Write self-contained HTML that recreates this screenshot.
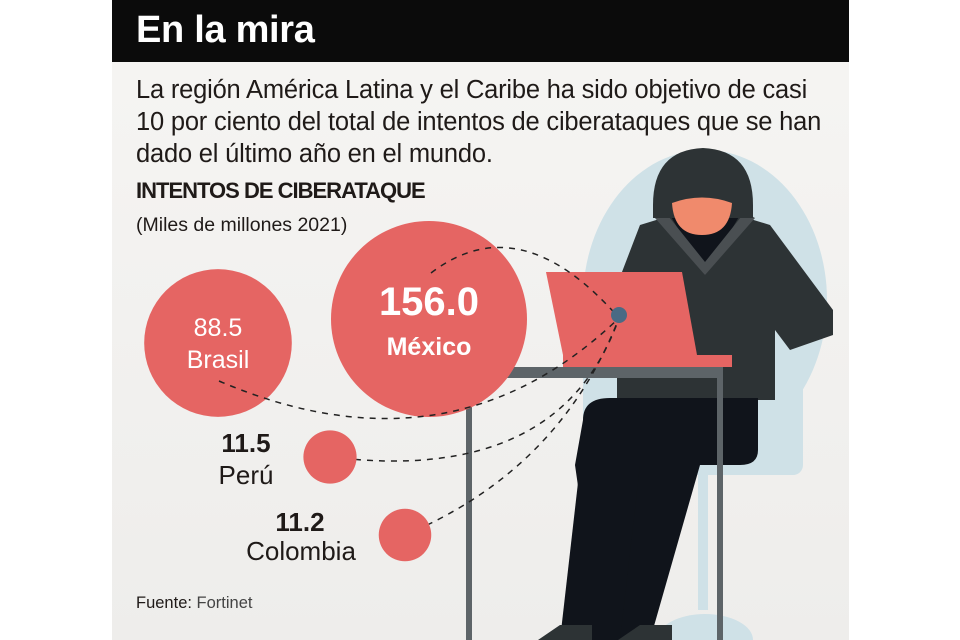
<!DOCTYPE html>
<html><head><meta charset="utf-8"><style>
html,body{margin:0;padding:0;background:#fff;}
body{width:960px;height:640px;position:relative;overflow:hidden;font-family:"Liberation Sans",sans-serif;}
#panel{position:absolute;left:112px;top:0;width:737px;height:640px;background:linear-gradient(#f6f5f3,#eeedeb);}
#hdr{position:absolute;left:112px;top:0;width:737px;height:62px;background:#0b0b0b;}
.t{position:absolute;white-space:nowrap;}
</style></head><body>
<div id="panel"></div>
<div id="hdr"></div>
<div class="t" style="left:136px;top:9px;color:#fff;font-size:38px;font-weight:bold;letter-spacing:-0.3px;">En la mira</div>
<div class="t" style="left:136px;top:74px;color:#1f1a18;font-size:25.5px;line-height:32px;letter-spacing:-0.2px;">La región América Latina y el Caribe ha sido objetivo de casi<br>10 por ciento del total de intentos de ciberataques que se han<br>dado el último año en el mundo.</div>
<div class="t" style="left:136px;top:178px;color:#1f1a18;font-size:22px;font-weight:bold;letter-spacing:-1px;">INTENTOS DE CIBERATAQUE</div>
<div class="t" style="left:136px;top:214px;color:#1f1a18;font-size:19.5px;">(Miles de millones 2021)</div>
<div class="t" style="left:136px;top:594px;color:#1f1a18;font-size:16.5px;">Fuente: <span style="color:#444">Fortinet</span></div>
<svg id="chart" width="960" height="640" style="position:absolute;left:0;top:0">
<g>
 <ellipse cx="705" cy="300" rx="122" ry="150" fill="#cfe1e7"/>
 <rect x="583" y="300" width="220" height="175" rx="10" fill="#cfe1e7"/>
 <rect x="698" y="470" width="10" height="140" fill="#cfe1e7"/>
 <ellipse cx="705" cy="640" rx="48" ry="26" fill="#cfe1e7"/>
 <path d="M617,285 L640,225 L705,205 L770,225 L833,310 L833,335 L790,350 L775,330 L775,400 L617,400 Z" fill="#2d3335"/>
 <path d="M670,215 L705,275 L740,215 Z" fill="#10141b"/>
 <path d="M655,218 L705,275 L755,218 L745,212 L705,262 L665,212 Z" fill="#4a4f52"/>
 <path d="M653,205 Q653,150 703,148 Q753,150 753,205 L753,218 L653,218 Z" fill="#2d3335"/>
 <path d="M672,203 Q702,192 732,203 Q730,235 702,235 Q674,235 672,203 Z" fill="#f08a6c"/>
 <path d="M583,420 Q583,398 610,398 L758,398 L758,450 Q758,465 740,465 L700,465 L650,640 L600,640 L575,465 Z" fill="#10141b"/>
 <path d="M580,465 L640,465 L620,640 L560,640 Z" fill="#10141b"/>
 <path d="M538,640 L560,625 L592,625 L592,640 Z" fill="#2d3335"/>
 <path d="M618,640 L640,625 L672,625 L672,640 Z" fill="#2d3335"/>
 <path d="M640,355 L660,340 L680,350 L680,360 Z" fill="#f08a6c"/>
 <path d="M546,272 L682,272 L697,355 L563,355 Z" fill="#e56563"/>
 <rect x="563" y="355" width="169" height="12" fill="#e56563"/>
 <rect x="466" y="367" width="257" height="11" fill="#5d6468"/>
 <rect x="466" y="367" width="6" height="273" fill="#5d6468"/>
 <rect x="717" y="367" width="6" height="273" fill="#5d6468"/>
</g>
<g id="lines"></g>
<g id="bubbles"></g>
<circle cx="619" cy="315" r="8" fill="#4a6a84"/>
</svg>
<script>
const countries=["México","Brasil","Perú","Colombia"];
const values=[156.0,88.5,11.5,11.2];
const labels=["156.0","88.5","11.5","11.2"];
const cxs=[429,218,330,405];
const cys=[319,343,457,535];
const ns="http://www.w3.org/2000/svg";
const rScale=v=>98*Math.sqrt(v/156);
const lines=document.getElementById('lines'),bub=document.getElementById('bubbles');
const ctrl=[[520,205],[450,480],[560,485],[560,470]];
const anchor=[[431,273],[219,381],[331,457],[405,535]];
values.forEach((v,i)=>{
 const c=document.createElementNS(ns,'circle');
 c.setAttribute('cx',cxs[i]);c.setAttribute('cy',cys[i]);c.setAttribute('r',rScale(v));c.setAttribute('fill','#e56563');
 
 
 bub.appendChild(c);
});
values.forEach((v,i)=>{
 const p=document.createElementNS(ns,'path');
 p.setAttribute('d',`M${anchor[i][0]},${anchor[i][1]} Q${ctrl[i][0]},${ctrl[i][1]} 619,318`);
 p.setAttribute('fill','none');p.setAttribute('stroke','#222');p.setAttribute('stroke-width','1.5');p.setAttribute('stroke-dasharray','6 6');
 
 
 (i<2?bub:lines).appendChild(p);
});
function txt(x,y,s,size,w,col,anchorT){
 const t=document.createElementNS(ns,'text');
 t.setAttribute('x',x);t.setAttribute('y',y);t.setAttribute('font-size',size);t.setAttribute('font-weight',w);
 t.setAttribute('fill',col);t.setAttribute('text-anchor',anchorT);t.setAttribute('font-family','Liberation Sans, sans-serif');
 t.textContent=s;
 
 
 document.getElementById('chart').appendChild(t);
}
txt(cxs[0],cys[0]-4,labels[0],40,'bold','#fff','middle');
txt(cxs[0],cys[0]+36,countries[0],25,'bold','#fff','middle');
txt(cxs[1],cys[1]-7,labels[1],25,'normal','#fff','middle');
txt(cxs[1],cys[1]+25,countries[1],25,'normal','#fff','middle');
txt(246,452,labels[2],26,'bold','#1f1a18','middle');
txt(246,484,countries[2],26,'normal','#1f1a18','middle');
txt(300,531,labels[3],26,'bold','#1f1a18','middle');
txt(301,560,countries[3],26,'normal','#1f1a18','middle');
</script>
</body></html>
